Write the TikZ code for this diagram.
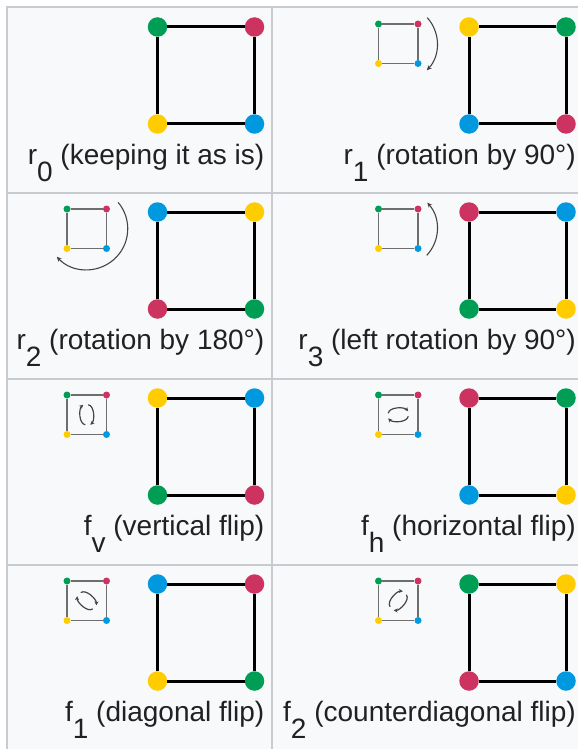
\documentclass[tikz,border=0pt]{standalone}
\usepackage{fontspec}
\setmainfont{Liberation Sans}
\usetikzlibrary{arrows.meta}

\definecolor{vgreen}{HTML}{009E55}
\definecolor{vred}{HTML}{CC3361}
\definecolor{vblue}{HTML}{0099E0}
\definecolor{vyellow}{HTML}{FFCC00}
\definecolor{cellbg}{HTML}{F8F9FA}
\definecolor{rulegray}{HTML}{C8CCD1}
\definecolor{sqgray}{HTML}{6E6E6E}
\definecolor{arrgray}{HTML}{444444}
\definecolor{ink}{HTML}{202122}

\newcommand{\lowsub}[1]{\raisebox{-0.62em}{#1}}

\begin{document}
\begin{tikzpicture}[
    x=1pt, y=-1pt,
    bigdot/.style={circle, inner sep=0pt, minimum size=19.5pt},
    smalldot/.style={circle, inner sep=0pt, minimum size=7pt},
    bigedge/.style={line width=3pt, draw=black},
    smalledge/.style={line width=1.5pt, draw=sqgray},
    rule/.style={line width=2pt, draw=rulegray},
    turn/.style={-{Stealth[length=5pt,width=4.5pt]}, line width=1.1pt, draw=arrgray},
    flip/.style={-{Stealth[length=4pt,width=4pt]}, line width=1.2pt, draw=arrgray},
    caption/.style={inner sep=0pt, anchor=base east, text=ink, font=\fontsize{28}{32}\selectfont},
    flipmark/.pic={
        \draw[flip] (-10,-1.5) .. controls (-9,-8) and (6,-8) .. (10,-3.5);
        \draw[flip] (10,1.5) .. controls (9,8) and (-6,8) .. (-10,3.5);
    }
]
    \useasboundingbox (0,0) rectangle (578,749);

    % table
    \fill[cellbg] (7,7) rectangle (578,749);
    \draw[rule] (7,749) -- (7,7) -- (578,7);
    \draw[rule] (272,7) -- (272,749);
    \foreach \ry in {193,379,565}
        \draw[rule] (7,\ry) -- (578,\ry);

    % big squares and captions
    \foreach \cx/\cy/\nm/\ctl/\ctr/\cbr/\cbl/\lab in {
        157.5/27/rzero/vgreen/vred/vblue/vyellow/{r\lowsub{0} (keeping it as is)},
        469/27/rone/vyellow/vgreen/vred/vblue/{r\lowsub{1} (rotation by 90°)},
        157.5/212/rtwo/vblue/vyellow/vgreen/vred/{r\lowsub{2} (rotation by 180°)},
        469/212/rthree/vred/vblue/vyellow/vgreen/{r\lowsub{3} (left rotation by 90°)},
        157.5/398/fv/vyellow/vblue/vred/vgreen/{f\lowsub{v} (vertical flip)},
        469/398/fh/vred/vgreen/vyellow/vblue/{f\lowsub{h} (horizontal flip)},
        157.5/584/fone/vblue/vred/vgreen/vyellow/{f\lowsub{1} (diagonal flip)},
        469/584/ftwo/vgreen/vyellow/vblue/vred/{f\lowsub{2} (counterdiagonal flip)}}{
        \node[bigdot, fill=\ctl] (\nm-tl) at (\cx,\cy) {};
        \node[bigdot, fill=\ctr] (\nm-tr) at (\cx+97,\cy) {};
        \node[bigdot, fill=\cbr] (\nm-br) at (\cx+97,\cy+97) {};
        \node[bigdot, fill=\cbl] (\nm-bl) at (\cx,\cy+97) {};
        \draw[bigedge] (\nm-tl) -- (\nm-tr) -- (\nm-br) -- (\nm-bl) -- (\nm-tl);
        \node[caption] (\nm-lab) at (\cx+107,\cy+137) {\lab};
    }

    % small reference squares
    \foreach \cx/\cy/\nm in {469/27/rone, 157.5/212/rtwo, 469/212/rthree,
        157.5/398/fv, 469/398/fh, 157.5/584/fone, 469/584/ftwo}{
        \node[smalldot, fill=vgreen] (\nm-sa) at (\cx-90.5,\cy-3) {};
        \node[smalldot, fill=vred] (\nm-sb) at (\cx-51,\cy-3) {};
        \node[smalldot, fill=vblue] (\nm-sc) at (\cx-51,\cy+36.5) {};
        \node[smalldot, fill=vyellow] (\nm-sd) at (\cx-90.5,\cy+36.5) {};
        \draw[smalledge] (\nm-sa) -- (\nm-sb) -- (\nm-sc) -- (\nm-sd) -- (\nm-sa);
        \coordinate (\nm-mid) at (\cx-70.75,\cy+16.75);
    }

    % rotation arrows
    \draw[turn] ([shift={(-42:39)}]rone-mid) arc[start angle=-42, end angle=43, radius=39];
    \draw[turn] ([shift={(-40:41)}]rtwo-mid) arc[start angle=-40, end angle=137, radius=41];
    \draw[turn] ([shift={(43:39)}]rthree-mid) arc[start angle=43, end angle=-42, radius=39];

    % flip marks
    \pic[rotate=90] at (fv-mid) {flipmark};
    \pic at (fh-mid) {flipmark};
    \pic[rotate=-45] at (fone-mid) {flipmark};
    \pic[rotate=45] at (ftwo-mid) {flipmark};
\end{tikzpicture}
\end{document}
